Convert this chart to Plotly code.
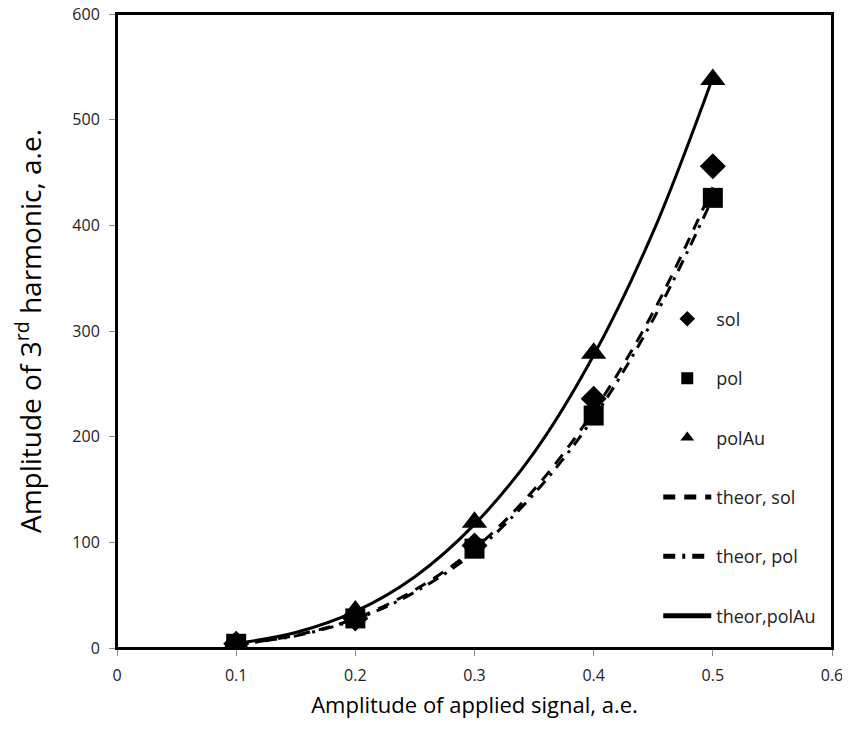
import plotly.graph_objects as go

x_meas = [0.1, 0.2, 0.3, 0.4, 0.5]
sol = [4, 28, 97, 236, 456]
pol = [4, 28, 94, 220, 426]
polAu = [5, 35, 119, 279, 538]

x_theor = [0.1, 0.15, 0.2, 0.25, 0.3, 0.35, 0.4, 0.45, 0.5]
theor_sol = [3.5, 12, 28, 55, 94, 150, 224, 318, 436]
theor_pol = [3.4, 11.5, 27, 53, 91, 146, 218, 311, 426]
theor_polAu = [4.3, 14.6, 34.6, 67.5, 117, 185, 277, 394, 540]

x_ticks = [0, 0.1, 0.2, 0.3, 0.4, 0.5, 0.6]
x_ticktext = ["0", "0.1", "0.2", "0.3", "0.4", "0.5", "0.6"]

FONT = "Open Sans"
fig = go.Figure()

# theory curves
fig.add_trace(go.Scatter(x=x_theor, y=theor_sol, mode="lines", name="theor, sol",
                         line=dict(color="black", width=3, dash="12px,9px", shape="spline"),
                         legendgroup="g4", legendrank=4))
fig.add_trace(go.Scatter(x=x_theor, y=theor_pol, mode="lines", name="theor, pol",
                         line=dict(color="black", width=3, dash="12px,7px,3px,7px", shape="spline"),
                         legendgroup="g5", legendrank=5))
fig.add_trace(go.Scatter(x=x_theor, y=theor_polAu, mode="lines", name="theor,polAu",
                         line=dict(color="black", width=3, shape="spline"),
                         legendgroup="g6", legendrank=6))

# measured
fig.add_trace(go.Scatter(x=x_meas, y=sol, mode="markers", name="sol",
                         marker=dict(symbol="diamond", size=20, color="black"),
                         legendgroup="g1", legendrank=1))
fig.add_trace(go.Scatter(x=x_meas, y=pol, mode="markers", name="pol",
                         marker=dict(symbol="square", size=20, color="black"),
                         legendgroup="g2", legendrank=2))
fig.add_trace(go.Scatter(x=x_meas, y=polAu, mode="markers", name="polAu",
                         marker=dict(symbol="triangle-up", size=22, color="black"),
                         legendgroup="g3", legendrank=3))

# plot frame
fig.add_shape(type="rect", xref="paper", yref="paper", x0=0, y0=0, x1=1, y1=1,
              line=dict(color="black", width=2), layer="above")

TICKFONT = dict(family=FONT, size=16, color="#222")

fig.update_layout(
    width=840, height=735,
    margin=dict(l=109, r=16, t=6, b=95, autoexpand=False),
    paper_bgcolor="white", plot_bgcolor="white",
    font=dict(family=FONT, size=16, color="#222"),
    legend=dict(x=0.757, y=0.548, xanchor="left", yanchor="top",
                font=dict(family=FONT, size=18, color="#222"),
                tracegroupgap=33, itemsizing="constant", itemwidth=48,
                bgcolor="rgba(0,0,0,0)"),
    xaxis=dict(range=[0, 0.6], tickvals=x_ticks, ticktext=x_ticktext,
               showgrid=False, zeroline=False, automargin=False,
               showline=True, linecolor="black", linewidth=2, mirror=True,
               ticks="outside", ticklen=6, tickcolor="#888", ticklabelstandoff=6,
               ticklabeloverflow="allow", tickfont=TICKFONT,
               title=dict(text="Amplitude of applied signal, a.e.",
                          font=dict(family=FONT, size=22, color="black"), standoff=12)),
    yaxis=dict(range=[0, 600], dtick=100, showgrid=False, zeroline=False, automargin=False,
               showline=True, linecolor="black", linewidth=2, mirror=True,
               ticks="outside", ticklen=6, tickcolor="#888", ticklabelstandoff=6,
               ticklabeloverflow="allow", tickfont=TICKFONT,
               title=dict(text="Amplitude of 3<sup>rd</sup> harmonic, a.e.",
                          font=dict(family=FONT, size=28, color="black"), standoff=31)),
)

fig.write_html("out.html")
